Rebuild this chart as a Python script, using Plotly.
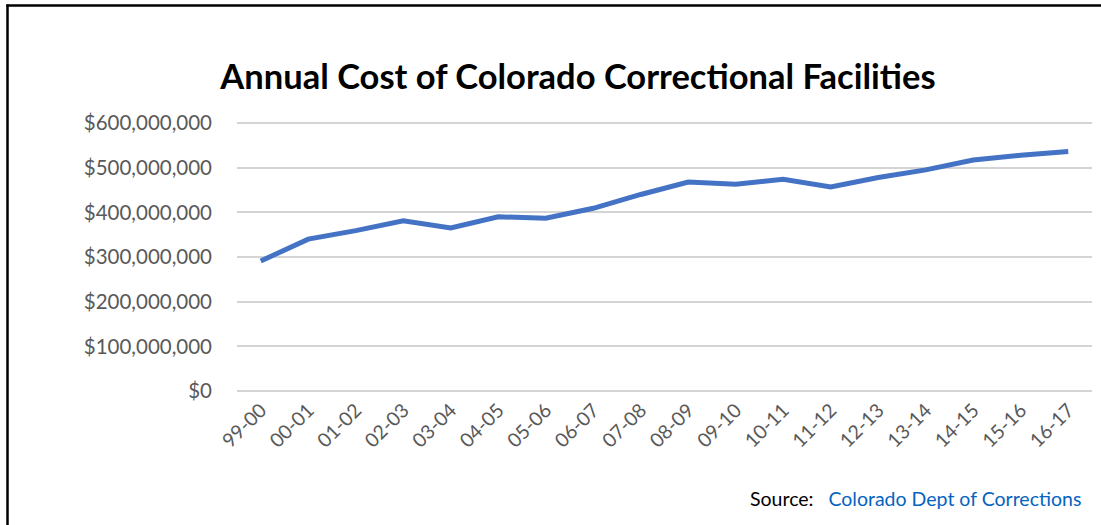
import plotly.graph_objects as go

years = ["99-00", "00-01", "01-02", "02-03", "03-04", "04-05", "05-06", "06-07", "07-08",
         "08-09", "09-10", "10-11", "11-12", "12-13", "13-14", "14-15", "15-16", "16-17"]
cost = [291e6, 340e6, 359e6, 381e6, 365e6, 390e6, 387e6, 409e6, 440e6,
        468e6, 463e6, 474e6, 457e6, 478e6, 495e6, 517e6, 528e6, 536e6]
y_ticks = [0, 100e6, 200e6, 300e6, 400e6, 500e6, 600e6]
y_tick_text = ["${:,.0f}".format(v) for v in y_ticks]

W, H = 1101, 525
PAD = 3  # px of padding above the top and below the bottom gridline
L, R, T, B = 237, 9, 123 - PAD, 134 - PAD
pw, ph = W - L - R, H - T - B
pad_val = PAD * 600e6 / (ph - 2 * PAD)
FONT = "Lato, Open Sans, sans-serif"

def px(x):
    return (x - L) / pw

def py(y):
    return (H - B - y) / ph

fig = go.Figure()
fig.add_trace(go.Scatter(x=list(range(len(years))), y=cost, mode="lines",
                         line=dict(color="#4472C4", width=5), hoverinfo="skip"))

fig.update_layout(
    width=W, height=H,
    margin=dict(l=L, r=R, t=T, b=B),
    paper_bgcolor="white", plot_bgcolor="white",
    showlegend=False,
    font=dict(family=FONT, color="#595959"),
    title=dict(text="<b>Annual Cost of Colorado Correctional Facilities</b>",
               xref="container", x=578 / W, xanchor="center",
               yref="container", y=1 - 77 / H, yanchor="middle",
               font=dict(size=34.5, color="black", family=FONT)),
    xaxis=dict(range=[-0.5, len(years) - 0.5], tickmode="array",
               tickvals=list(range(len(years))), ticktext=years, tickangle=-45,
               showgrid=False, zeroline=False, showline=False, ticks="",
               tickfont=dict(size=19.5, color="#595959")),
    yaxis=dict(range=[-pad_val, 600e6 + pad_val], tickmode="array", tickvals=y_ticks,
               ticktext=y_tick_text,
               showgrid=True, gridcolor="#D4D4D4", gridwidth=1.6, zeroline=False,
               showline=False, ticks="", ticklabelstandoff=24,
               tickfont=dict(size=20.5, color="#595959")),
)

# outer chart border (left and top edges)
fig.add_shape(type="line", xref="paper", yref="paper",
              x0=px(7.5), x1=px(7.5), y0=py(4.5), y1=py(H + 5),
              line=dict(color="black", width=2.5))
fig.add_shape(type="line", xref="paper", yref="paper",
              x0=px(6.3), x1=px(W + 5), y0=py(5.5), y1=py(5.5),
              line=dict(color="black", width=2.5))

fig.add_annotation(xref="paper", yref="paper", x=px(1083), y=py(498),
                   xanchor="right", yanchor="middle", showarrow=False,
                   text="<span style='color:black'>Source:</span>   "
                        "<span style='color:#0563C1'>Colorado Dept of Corrections</span>",
                   font=dict(size=19.5, family=FONT))

fig.write_html("out.html", config={"displayModeBar": False},
               post_script="document.body.style.margin='0';")
